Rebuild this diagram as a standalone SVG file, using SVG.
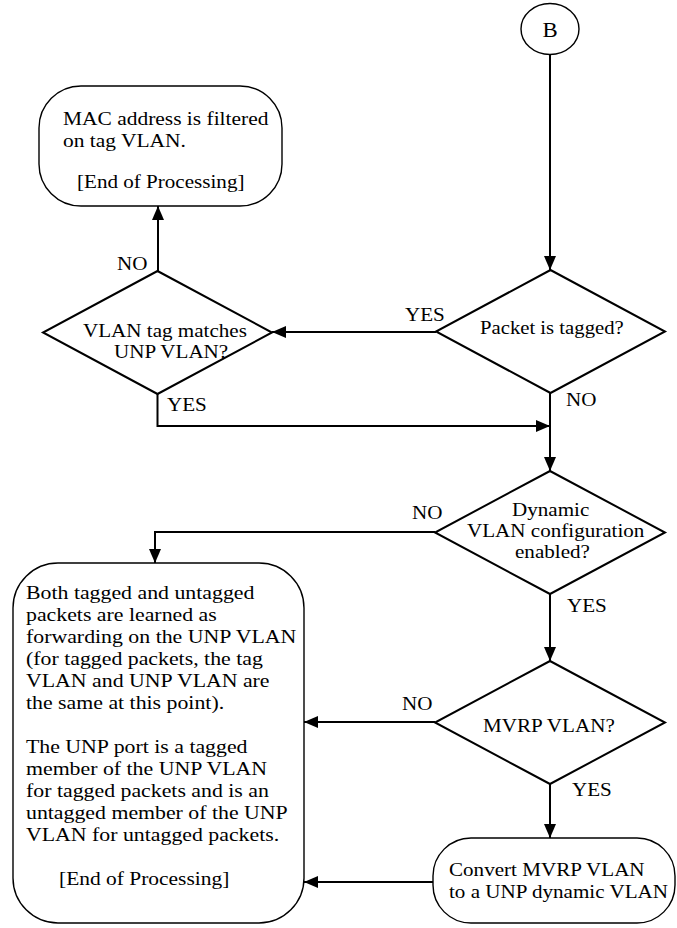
<svg xmlns="http://www.w3.org/2000/svg" width="677" height="928" viewBox="0 0 677 928">
<defs>
<marker id="ah" markerUnits="userSpaceOnUse" markerWidth="14" markerHeight="12" refX="14" refY="6" orient="auto">
<path d="M0,0 L14,6 L0,12 z" fill="#000"/>
</marker>
<style>
.box{fill:#fff;stroke:#000;stroke-width:1.4}
.dia{fill:#fff;stroke:#000;stroke-width:2}
.con{fill:none;stroke:#000;stroke-width:2;marker-end:url(#ah)}
text{font-family:"Liberation Serif","Times New Roman",serif;font-size:18.5px;fill:#000}
</style>
</defs>
<rect width="677" height="928" fill="#fff"/>
<g id="connectors">
<path class="con" d="M550,55 V270"/>
<path class="con" d="M436,332 H272"/>
<path class="con" d="M158,271 V206"/>
<path class="con" d="M157.5,394 V426 H550"/>
<path class="con" d="M550,393 V471"/>
<path class="con" d="M435,532 H155 V563"/>
<path class="con" d="M550,594 V661"/>
<path class="con" d="M435,722 H304"/>
<path class="con" d="M550,784 V838"/>
<path class="con" d="M433,882 H304"/>
</g>
<g id="nodeB">
<ellipse class="box" cx="550" cy="29" rx="29" ry="25.5"/>
<text transform="translate(550 37) scale(1.14 1)" text-anchor="middle" style="font-size:20px">B</text>
</g>
<g id="macFiltered">
<rect class="box" x="39" y="86" width="243" height="120" rx="42" ry="42"/>
<text transform="translate(63 125) scale(1.16 1)"><tspan x="0" y="0">MAC address is filtered</tspan><tspan x="0" y="22">on tag VLAN.</tspan></text>
<text transform="translate(77 188) scale(1.14 1)">[End of Processing]</text>
</g>
<g id="vlanMatch">
<polygon class="dia" points="157.5,271 272,332.5 157.5,394 43,332.5"/>
<text transform="translate(83 337) scale(1.14 1)">VLAN tag matches</text>
<text transform="translate(114 358) scale(1.14 1)">UNP VLAN?</text>
</g>
<g id="packetTagged">
<polygon class="dia" points="550.5,270 665,331.5 550.5,393 436,331.5"/>
<text transform="translate(480 334) scale(1.12 1)">Packet is tagged?</text>
</g>
<g id="dynamicVlan">
<polygon class="dia" points="550,471 665,532.5 550,594 435,532.5"/>
<text transform="translate(512 516) scale(1.14 1)">Dynamic</text>
<text transform="translate(467 537) scale(1.14 1)">VLAN configuration</text>
<text transform="translate(515 558) scale(1.14 1)">enabled?</text>
</g>
<g id="mvrpVlan">
<polygon class="dia" points="550,661 665,722.5 550,784 435,722.5"/>
<text transform="translate(483 732) scale(1.14 1)">MVRP VLAN?</text>
</g>
<g id="convert">
<rect class="box" x="433" y="838" width="242" height="85" rx="38" ry="38"/>
<text transform="translate(449 876) scale(1.14 1)">Convert MVRP VLAN</text>
<text transform="translate(449 898) scale(1.14 1)">to a UNP dynamic VLAN</text>
</g>
<g id="learned">
<rect class="box" x="13" y="563" width="291" height="360" rx="45" ry="45"/>
<text transform="translate(26 599) scale(1.18 1)">
<tspan x="0" y="0">Both tagged and untagged</tspan>
<tspan x="0" y="22">packets are learned as</tspan>
<tspan x="0" y="44">forwarding on the UNP VLAN</tspan>
<tspan x="0" y="66">(for tagged packets, the tag</tspan>
<tspan x="0" y="88">VLAN and UNP VLAN are</tspan>
<tspan x="0" y="110">the same at this point).</tspan>
<tspan x="0" y="154">The UNP port is a tagged</tspan>
<tspan x="0" y="176">member of the UNP VLAN</tspan>
<tspan x="0" y="198">for tagged packets and is an</tspan>
<tspan x="0" y="220">untagged member of the UNP</tspan>
<tspan x="0" y="242">VLAN for untagged packets.</tspan>
</text>
<text transform="translate(59 885) scale(1.16 1)">[End of Processing]</text>
</g>
<g id="labels">
<text transform="translate(405 321) scale(1.14 1)">YES</text>
<text transform="translate(117 270) scale(1.14 1)">NO</text>
<text transform="translate(167 411) scale(1.14 1)">YES</text>
<text transform="translate(566 406) scale(1.14 1)">NO</text>
<text transform="translate(412 519) scale(1.14 1)">NO</text>
<text transform="translate(567 612) scale(1.14 1)">YES</text>
<text transform="translate(402 710) scale(1.14 1)">NO</text>
<text transform="translate(572 796) scale(1.14 1)">YES</text>
</g>
</svg>
